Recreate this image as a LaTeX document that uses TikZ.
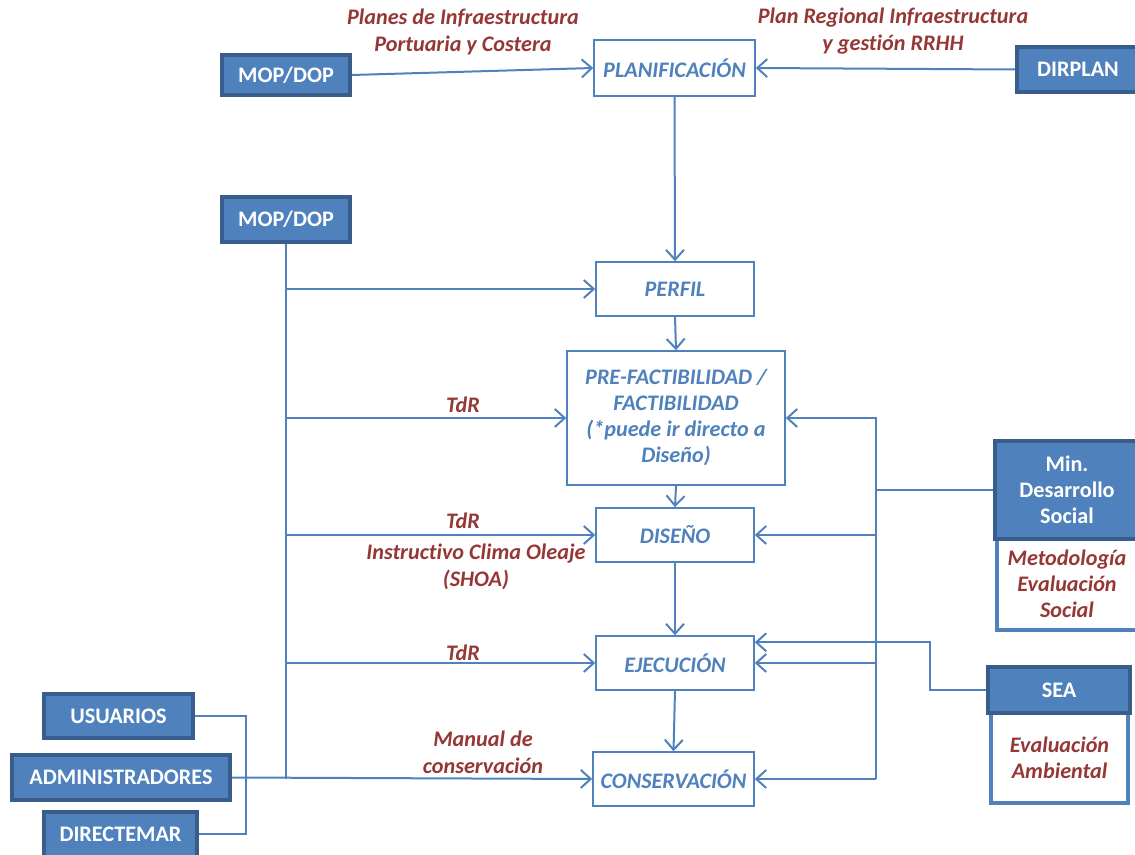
\documentclass[tikz,border=0pt]{standalone}
\usepackage{fontspec}
\setmainfont{Carlito}[Ligatures=NoCommon]
\usetikzlibrary{arrows.meta}

\definecolor{boxblue}{RGB}{79,129,189}
\definecolor{darkblue}{RGB}{56,93,138}
\definecolor{labelred}{RGB}{149,55,53}

\tikzset{
	stage/.style={draw=boxblue, line width=0.75pt, fill=white, text=boxblue, font=\bfseries\itshape\fontsize{11.1}{13}\selectfont, align=center, inner sep=2pt},
	agent/.style={draw=darkblue, line width=2pt, fill=boxblue, text=white, font=\bfseries\fontsize{11.1}{13}\selectfont, align=center, inner sep=2pt},
	note/.style={draw=boxblue, line width=2pt, fill=white, text=labelred, font=\bfseries\itshape\fontsize{11.1}{13}\selectfont, align=center, inner sep=2pt},
	lbl/.style={text=labelred, font=\bfseries\itshape\fontsize{11.1}{13.5}\selectfont, align=center, inner sep=0pt},
	conn/.style={draw=boxblue, line width=1pt},
	arr/.style={conn, -{Straight Barb[length=5pt,width=9pt]}},
}

\begin{document}
\begin{tikzpicture}[x=0.5pt, y=-0.5pt]

	\useasboundingbox (0,0) rectangle (1135,855);

	% etapas
	\node[stage, minimum width=80.5pt, minimum height=28pt] (plan) at (674.5,68) {PLANIFICACIÓN};
	\node[stage, minimum width=79pt, minimum height=27pt] (perfil) at (675,289) {PERFIL};
	\node[stage, minimum width=109pt, minimum height=67pt] (prefact) at (676,418) {PRE-FACTIBILIDAD /\\FACTIBILIDAD\\(*puede ir directo a\\Diseño)};
	\node[stage, minimum width=79pt, minimum height=27pt] (diseno) at (675,535) {DISEÑO};
	\node[stage, minimum width=79pt, minimum height=27pt] (ejec) at (675,663) {EJECUCIÓN};
	\node[stage, minimum width=80.5pt, minimum height=27pt] (conserv) at (673.5,779) {CONSERVACIÓN};

	% actores
	\node[agent, minimum width=64pt, minimum height=20pt] (mop1) at (286,75) {MOP/DOP};
	\node[agent, minimum width=64pt, minimum height=22.5pt] (mop2) at (286,219.5) {MOP/DOP};
	\node[agent, minimum width=61pt, minimum height=22.5pt] (dirplan) at (1078,69.5) {DIRPLAN};
	\node[agent, minimum width=74.5pt, minimum height=22pt] (usuarios) at (118.5,716) {USUARIOS};
	\node[agent, minimum width=109pt, minimum height=22.5pt] (admin) at (121,777.5) {ADMINISTRADORES};
	\node[agent, minimum width=76.5pt, minimum height=22.5pt] (directemar) at (120.5,834) {DIRECTEMAR};

	\node[note, minimum width=70.5pt, minimum height=46.5pt] (metod) at (1067,583.5) {Metodología\\Evaluación\\Social};
	\node[agent, minimum width=72.5pt, minimum height=48.5pt] (mds) at (1067,490) {Min.\\Desarrollo\\Social};
	\node[note, minimum width=68.5pt, minimum height=45pt] (evamb) at (1059.5,758) {Evaluación\\Ambiental};
	\node[agent, minimum width=71pt, minimum height=23pt] (sea) at (1059,690) {SEA};

	% textos
	\node[lbl] (l1) at (463,32) {Planes de Infraestructura\\Portuaria y Costera};
	\node[lbl] (l2) at (893,31) {Plan Regional Infraestructura\\y gestión RRHH};
	\node[lbl] (l3) at (463,405) {TdR};
	\node[lbl] (l4) at (463,521) {TdR};
	\node[lbl] (l5) at (476,567) {Instructivo Clima Oleaje\\(SHOA)};
	\node[lbl] (l6) at (463,653) {TdR};
	\node[lbl] (l7) at (483,752) {Manual de\\conservación};

	\coordinate (lbus) at (246,778);
	\coordinate (rbus) at (876,417);

	% flujo principal
	\draw[arr] (mop1.east) -- (plan.west);
	\draw[arr] (dirplan.west) -- (plan.east);
	\foreach \i / \j in {plan/perfil, perfil/prefact, prefact/diseno, diseno/ejec, ejec/conserv}
	{
		\draw[arr] (\i.south) -- (\j.north);
	};

	% MOP/DOP
	\draw[conn] (mop2.south) -- (mop2.south |- conserv.west);
	\foreach \j in {perfil, prefact, diseno, ejec}
	{
		\draw[arr] (mop2.south |- \j.west) -- (\j.west);
	};

	% usuarios, administradores, directemar
	\draw[conn] (usuarios.east) -| (lbus) |- (directemar.east);
	\draw[arr] (admin.east) -- (conserv.west);

	% ministerio y SEA
	\draw[conn] (rbus) -- (rbus |- conserv.east);
	\draw[conn] (mds.west) -- (rbus |- mds.west);
	\foreach \j in {prefact, diseno, ejec, conserv}
	{
		\draw[arr] (rbus |- \j.east) -- (\j.east);
	};
	\draw[arr] (sea.west) -- ++(-56,0) |- ([yshift=-3.5pt]ejec.north east);

\end{tikzpicture}
\end{document}
